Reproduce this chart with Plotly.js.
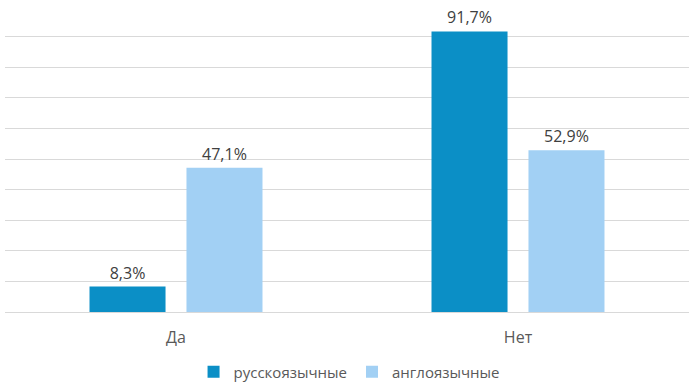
<!DOCTYPE html>
<html><head><meta charset="utf-8">
<script src="https://cdn.plot.ly/plotly-3.0.1.min.js"></script>
<style>html,body{margin:0;padding:0;background:#fff}</style>
</head><body>
<div id="chart" style="width:690px;height:384px"></div>
<script>
const categories = ["Да", "Нет"];
const seriesNames = ["русскоязычные", "англоязычные"];
const russian = [8.3, 91.7];
const english = [47.1, 52.9];

const fam = "Open Sans, Noto Sans, sans-serif";
const traces = [
  {type: "bar", name: seriesNames[0], x: categories, y: russian,
   marker: {color: "#0b8fc6"}, texttemplate: "%{y:.1f}%", textposition: "outside",
   textfont: {family: fam, size: 16, color: "#404040"}, cliponaxis: false, hoverinfo: "none"},
  {type: "bar", name: seriesNames[1], x: categories, y: english,
   marker: {color: "#a2d0f4"}, texttemplate: "%{y:.1f}%", textposition: "outside",
   textfont: {family: fam, size: 16, color: "#404040"}, cliponaxis: false, hoverinfo: "none"}
];
const layout = {
  width: 690, height: 384,
  margin: {l: 5, r: 1, t: 6, b: 72, autoexpand: false},
  separators: ", ",
  font: {family: fam, size: 16, color: "#595959"},
  paper_bgcolor: "#fff", plot_bgcolor: "#fff",
  barmode: "group", bargap: 0.433, bargroupgap: 0.216,
  xaxis: {showgrid: false, showline: false, ticks: "", ticklabelstandoff: 14,
          tickfont: {size: 16, color: "#595959"}},
  yaxis: {range: [0, 100], dtick: 10, showticklabels: false, gridcolor: "#d9d9d9", gridwidth: 1,
          zeroline: true, zerolinecolor: "#d9d9d9", zerolinewidth: 1, showline: false},
  showlegend: true,
  legend: {orientation: "h", x: 0.503, xanchor: "center", y: -0.196, yanchor: "middle",
           font: {size: 15, color: "#595959"}, itemwidth: 30}
};
Plotly.newPlot("chart", traces, layout, {staticPlot: true});
</script>
</body></html>
